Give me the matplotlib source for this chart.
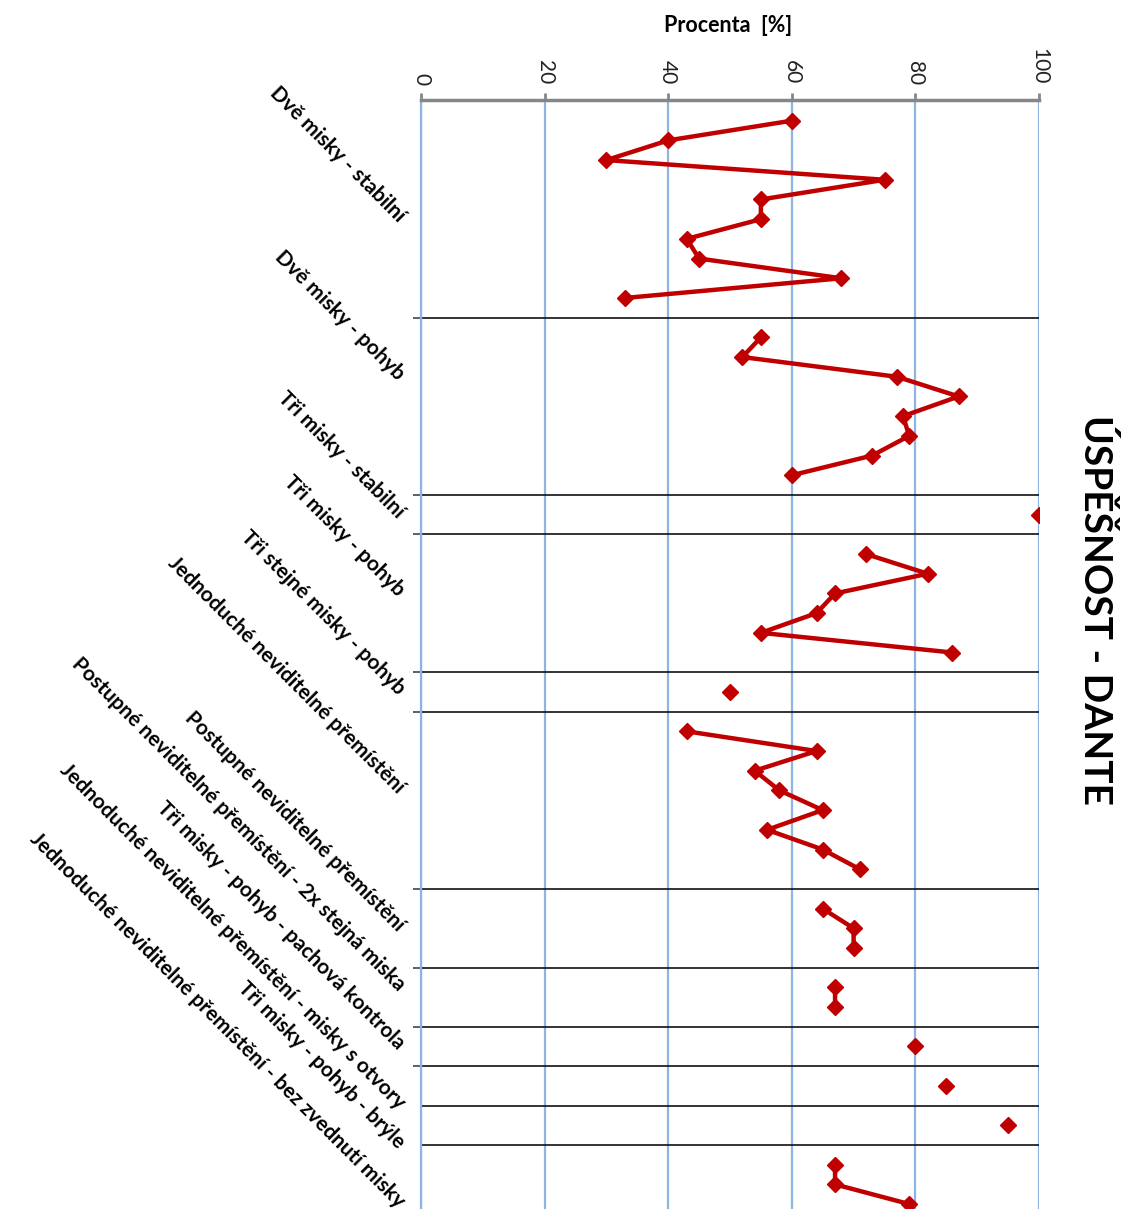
import numpy as np
import matplotlib
matplotlib.use("Agg")
import matplotlib.pyplot as plt

plt.rcParams['font.family'] = ['Lato', 'DejaVu Sans']

# values, one list per block of trials (percent)
dve_stabilni = [60, 40, 30, 75, 55, 55, 43, 45, 68, 33]
dve_pohyb = [55, 52, 77, 87, 78, 79, 73, 60]
tri_stabilni = [100]
tri_pohyb = [72, 82, 67, 64, 55, 86]
tri_stejne = [50]
jednoduche = [43, 64, 54, 58, 65, 56, 65, 71]
postupne = [65, 70, 70]
postupne_2x = [67, 67]
pachova = [80]
otvory = [85]
bryle = [95]
bez_zvednuti = [67, 67, 79]

groups = [dve_stabilni, dve_pohyb, tri_stabilni, tri_pohyb, tri_stejne, jednoduche,
          postupne, postupne_2x, pachova, otvory, bryle, bez_zvednuti]

labels = ["Dvě misky - stabilní", "Dvě misky - pohyb", "Tři misky - stabilní",
          "Tři misky - pohyb", "Tři stejné misky - pohyb",
          "Jednoduché neviditelné přemístění", "Postupné neviditelné přemístění",
          "Postupné neviditelné přemístění - 2x stejná miska",
          "Tři misky - pohyb - pachová kontrola",
          "Jednoduché neviditelné přemístění - misky s otvory",
          "Tři misky - pohyb - brýle",
          "Jednoduché neviditelné přemístění - bez zvednutí misky"]
# row of the sheet where each label sits
label_rows = [5, 13, 20, 24, 29, 34, 41, 44, 47, 50, 52, 55]

x_ticks = [0, 20, 40, 60, 80, 100]

# one series, with an empty row between blocks
values = []
for i, g in enumerate(groups):
    values += g
    if i < len(groups) - 1:
        values.append(np.nan)
values = np.array(values, dtype=float)
rows = np.arange(len(values))
blank_rows = rows[np.isnan(values)]

RED = "#C00000"
GRID = "#8DB4E2"

fig = plt.figure(figsize=(11.24, 12.09), dpi=100)
ax = fig.add_axes([421/1124, 0.0, (1039-421)/1124, 1 - 100/1209])

for v in x_ticks:
    ax.axvline(v, color=GRID, lw=1.6, zorder=1)
ax.hlines(blank_rows, 0, 100, color="#111111", lw=1.2, zorder=2)

ax.plot(values, rows, color=RED, lw=3.2, marker="D", ms=8.5, zorder=3)

ax.set_xlim(0, 100)
ax.set_ylim(55.25, -1.05)

ax.xaxis.tick_top()
ax.set_xticks(x_ticks)
ax.tick_params(axis="x", direction="out", length=5, width=2, color="#868686",
               labelrotation=-90, labelsize=15, pad=6, labelcolor="#222222")

ax.set_yticks(label_rows)
ax.set_yticklabels(labels, rotation=-45, rotation_mode="anchor", ha="right",
                   va="center", fontsize=15, fontweight="bold")
ax.set_yticks(blank_rows, minor=True)
ax.tick_params(axis="y", which="major", length=0, pad=14)
ax.tick_params(axis="y", which="minor", direction="out", length=6, width=1.2,
               color="#444444")

for s in ["right", "bottom"]:
    ax.spines[s].set_visible(False)
ax.spines["left"].set_color(GRID)
ax.spines["left"].set_linewidth(1.6)
ax.spines["top"].set_color("#868686")
ax.spines["top"].set_linewidth(2.5)

fig.text(728/1124, 1 - 25/1209, "Procenta  [%]", ha="center", va="center",
         fontsize=15.5, fontweight="bold")
fig.text(1096/1124, 1 - 610/1209, "ÚSPĚŠNOST - DANTE", ha="center", va="center",
         rotation=-90, fontsize=28, fontweight="bold")

fig.savefig("out.png", dpi=100)
